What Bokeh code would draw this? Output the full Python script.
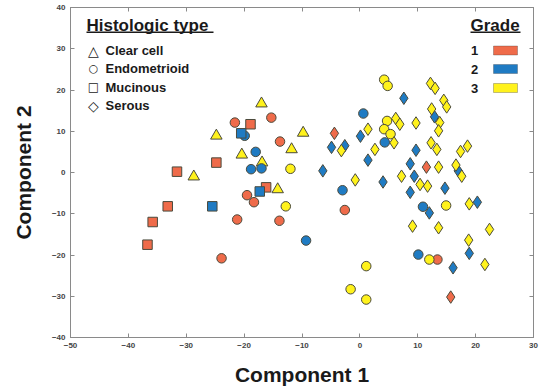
from bokeh.plotting import figure
from bokeh.models import (ColumnDataSource, Label, BoxAnnotation, LinearAxis, FixedTicker,
                          Range1d, CustomLabelingPolicy)
from bokeh.transform import factor_cmap, factor_mark
from bokeh.embed import file_html
from bokeh.resources import INLINE

# ---------------- data ----------------
types = ["Clear cell", "Endometrioid", "Mucinous", "Serous"]
grades = ["1", "2", "3"]
x_ticks = [-50, -40, -30, -20, -10, 0, 10, 20, 30]
y_ticks = [-40, -30, -20, -10, 0, 10, 20, 30, 40]

comp1 = [
    # Clear cell, grade 3
    -17.0, -24.8, -9.8, -11.8, -20.4, -16.9, -28.7, -14.2,
    # Endometrioid, grade 1
    -15.3, -21.6, -13.8, -19.5, -18.3, -21.2, -13.9, -23.9, -2.6, 13.4,
    # Endometrioid, grade 2
    -19.9, -18.0, -18.8, -17.0, -9.3, 0.6, 4.3, -3.0, 10.9, 10.1,
    # Endometrioid, grade 3
    -12.0, -12.8, 1.1, -1.6, 1.1, 14.9, 12.0, 4.2, 4.8, 4.7, 4.2, 5.3,
    # Mucinous, grade 1
    -18.9, -24.8, -31.6, -16.2, -33.2, -35.8, -36.7,
    # Mucinous, grade 2
    -20.5, -17.3, -25.5,
    # Serous, grade 1
    -4.4, 11.5, 15.7,
    # Serous, grade 2
    -4.9, -2.6, 0.1, 1.4, -6.4, 7.6, 12.9, 9.7, 8.7, 9.4, 4.0, 8.7, 14.7, 17.0,
    12.0, 20.3, 18.9, 16.1,
    # Serous, grade 3
    -3.2, 1.4, 2.6, -0.8, 6.2, 6.9, 5.9, 9.7, 12.2, 13.0, 14.5, 15.0, 12.4, 13.8,
    13.6, 12.3, 13.3, 18.6, 17.4, 16.6, 17.6, 13.6, 7.2, 10.4, 11.7, 18.9, 9.1,
    13.6, 22.4, 18.8, 21.6,
]
comp2 = [
    16.7, 8.9, 9.6, 5.6, 4.3, 2.4, -1.0, -4.1,
    13.3, 12.1, 7.5, -5.5, -7.2, -11.4, -11.7, -20.8, -9.1, -21.1,
    8.9, 5.0, 0.8, 1.0, -16.5, 14.3, 7.3, -4.3, -8.3, -19.9,
    0.9, -8.2, -22.7, -28.3, -30.8, -8.0, -21.1, 22.5, 21.0, 12.5, 10.5, 9.3,
    11.7, 2.4, 0.2, -3.6, -8.2, -12.0, -17.5,
    9.5, -4.6, -8.2,
    9.5, 1.3, -30.2,
    6.1, 6.5, 8.8, 3.0, 0.4, 18.0, 13.5, 5.4, 2.1, -0.9, -2.3, -4.8, -3.8, 0.4,
    -9.8, -7.2, -19.6, -23.1,
    5.3, 10.5, 5.6, -1.8, 13.1, 11.7, 7.2, 12.0, 21.6, 20.4, 17.5, 15.9, 15.4, 12.1,
    10.1, 7.2, 5.6, 6.4, 5.1, 1.8, -0.9, 1.3, -0.9, -2.9, -3.3, -7.6, -13.0,
    -13.4, -13.8, -16.4, -22.3,
]
histology = (["Clear cell"] * 8 + ["Endometrioid"] * 32 + ["Mucinous"] * 10
             + ["Serous"] * 52)
grade = (["3"] * 8
         + ["1"] * 10 + ["2"] * 10 + ["3"] * 12
         + ["1"] * 7 + ["2"] * 3
         + ["1"] * 3 + ["2"] * 18 + ["3"] * 31)

# ---------------- styling ----------------
markers = ["triangle", "circle", "square", "diamond"]
marker_size = {"Clear cell": 11.5, "Endometrioid": 9.5, "Mucinous": 9.5, "Serous": 12.5}
palette = ["#EF6B4A", "#1F7BC3", "#FFF21C"]
FONT = "Liberation Sans"
AXIS_COL = "#8a8a8a"

src = ColumnDataSource(dict(comp1=comp1, comp2=comp2, histology=histology,
                            grade=grade,
                            size=[marker_size[h] for h in histology]))

p = figure(width=546, height=389, output_backend="svg", toolbar_location=None,
           x_range=Range1d(-50, 30), y_range=Range1d(-40, 40),
           min_border_left=70, min_border_right=13, min_border_top=7,
           min_border_bottom=52)
p.grid.visible = False
p.outline_line_color = AXIS_COL
p.background_fill_color = "white"
p.border_fill_color = "white"

p.scatter("comp1", "comp2", source=src, size="size",
          marker=factor_mark("histology", markers, types),
          fill_color=factor_cmap("grade", palette, grades),
          line_color="#4a4a3c", line_width=1)

hide_all = CustomLabelingPolicy(
    code="for (let i = 0; i < indices.size; i++) { indices.set(i, false) } return indices")

def style_axis(ax, show_labels):
    ax.major_tick_in = 4
    ax.major_tick_out = 0
    ax.minor_tick_line_color = None
    ax.axis_line_color = AXIS_COL
    ax.major_tick_line_color = AXIS_COL
    if show_labels:
        ax.major_label_text_font = FONT
        ax.major_label_text_font_size = "8px"
        ax.major_label_text_font_style = "bold"
        ax.major_label_text_color = "#444444"
        ax.major_label_standoff = 5
        ax.axis_label_text_font = FONT
        ax.axis_label_text_font_size = "21px"
        ax.axis_label_text_font_style = "bold"
        ax.axis_label_text_color = "#1a1a1a"
    else:
        ax.major_label_policy = hide_all
        ax.major_label_text_font_size = "1px"
        ax.major_label_standoff = 0

p.xaxis.ticker = FixedTicker(ticks=x_ticks)
p.yaxis.ticker = FixedTicker(ticks=y_ticks)
p.xaxis.axis_label = "Component 1"
p.yaxis.axis_label = "Component 2"
style_axis(p.xaxis[0], True)
style_axis(p.yaxis[0], True)
p.xaxis.axis_label_standoff = 12
p.yaxis.axis_label_standoff = 14

top_ax = LinearAxis(ticker=FixedTicker(ticks=x_ticks))
right_ax = LinearAxis(ticker=FixedTicker(ticks=y_ticks))
style_axis(top_ax, False)
style_axis(right_ax, False)
p.add_layout(top_ax, "above")
p.add_layout(right_ax, "right")

# ---------------- panel letter & legends (screen units relative to frame) ----------------
def lab(x, y, text, size, bold=True, align="left", font=FONT, color="#1a1a1a"):
    p.add_layout(Label(x=x, y=y, x_units="screen", y_units="screen", text=text,
                       text_font=font, text_font_size=size,
                       text_font_style="bold" if bold else "normal",
                       text_align=align, text_baseline="middle", text_color=color))

lab(-46, 317, "C", "36px", align="center", color="#111111")

lab(16, 312, "Histologic type", "17px")
p.add_layout(BoxAnnotation(left=16, right=143, top=306, bottom=304.5,
                           left_units="screen", right_units="screen",
                           top_units="screen", bottom_units="screen",
                           fill_color="#1a1a1a", fill_alpha=1, line_color=None))
symbols = ["\u25B3", "\u25CB", "\u25A1", "\u25C7"]
symbol_font = ["14px", "11px", "12px", "14px"]
sym_y = [287, 269.5, 250.5, 232]
for s, fs, t, yy in zip(symbols, symbol_font, types, sym_y):
    lab(23, yy, s, fs, bold=False, align="center", font="DejaVu Sans")
    lab(35, yy, t, "13px")

lab(400, 312, "Grade", "17px")
p.add_layout(BoxAnnotation(left=400, right=450, top=306, bottom=304.5,
                           left_units="screen", right_units="screen",
                           top_units="screen", bottom_units="screen",
                           fill_color="#1a1a1a", fill_alpha=1, line_color=None))
grade_y = [287, 268.5, 249.5]
for g, c, yy in zip(grades, palette, grade_y):
    lab(404, yy, g, "13px", align="center")
    p.add_layout(BoxAnnotation(left=423, right=447, top=yy + 4.5, bottom=yy - 4.5,
                               left_units="screen", right_units="screen",
                               top_units="screen", bottom_units="screen",
                               fill_color=c, fill_alpha=1, line_color="#333333",
                               line_width=1))

open("out.html", "w").write(file_html(p, INLINE))
